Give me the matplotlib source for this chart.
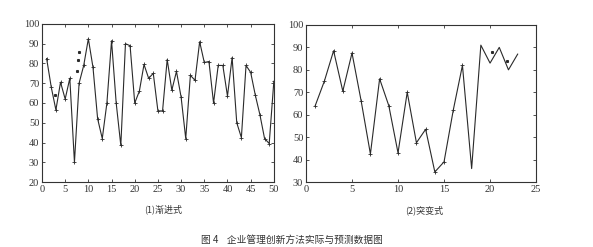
import matplotlib
matplotlib.use("Agg")
import matplotlib.pyplot as plt

# ---- data ----
left_x = list(range(1, 51))
left_y = [82.5, 68, 56.5, 70.5, 62, 72.5, 30, 70, 79, 92.5,
          78, 52, 42, 60, 91.5, 60, 38.5, 90, 89, 60,
          66, 79.5, 72.5, 75, 56, 56, 82, 66.5, 76, 63,
          42, 74, 71.5, 91, 80.5, 81, 60, 79, 79, 63.5,
          83, 50, 42.5, 79, 75.5, 64, 54, 42, 39.5, 71]
left_pred_x = [2.8, 7.6, 7.7, 8.0]
left_pred_y = [64, 76, 82, 86]

right_x = list(range(1, 24))
right_y = [64, 75, 88.5, 70.5, 87.5, 66, 42.5, 76, 64, 43,
           70, 47.5, 53.5, 34.5, 39, 62, 82, 36, 91, 83,
           90, 80, 87]
right_pred_x = [20.2, 21.8]
right_pred_y = [88, 84]

left_xticks = list(range(0, 51, 5))
left_yticks = list(range(20, 101, 10))
right_xticks = list(range(0, 26, 5))
right_yticks = list(range(30, 101, 10))

sub1 = "(1)渐进式"
sub2 = "(2)突变式"
caption = "图 4    企业管理创新方法实际与预测数据图"

# ---- figure ----
fig = plt.figure(figsize=(5.93, 2.47), dpi=100)
num_font = "Liberation Serif"
cjk = ["Noto Sans CJK SC", "DejaVu Sans"]
lc = "#2a2a2a"

def style(ax, xt, yt, xlim, ylim):
    ax.set_xlim(*xlim)
    ax.set_ylim(*ylim)
    ax.set_xticks(xt)
    ax.set_yticks(yt)
    ax.tick_params(direction="in", top=True, right=True, length=2.5,
                   width=0.6, labelsize=7.5, pad=2, colors="#333333")
    for lab in ax.get_xticklabels() + ax.get_yticklabels():
        lab.set_fontfamily(num_font)
    for s in ax.spines.values():
        s.set_linewidth(0.8)
        s.set_color("#333333")

ax1 = fig.add_axes([0.0708, 0.263, 0.391, 0.640])
ax1.plot(left_x, left_y, color=lc, lw=0.8, marker="+", ms=2.2, mew=0.6)
ax1.plot(left_pred_x, left_pred_y, ls="none", marker="s", ms=1.2, color=lc)
style(ax1, left_xticks, left_yticks, (0, 50), (20, 100))

ax2 = fig.add_axes([0.516, 0.263, 0.388, 0.636])
ax2.plot(right_x, right_y, color=lc, lw=0.8, marker="+", ms=2.2, mew=0.6,
         markevery=list(range(0, 17)))
ax2.plot(right_pred_x, right_pred_y, ls="none", marker="s", ms=1.2, color=lc)
style(ax2, right_xticks, right_yticks, (0, 25), (30, 100))

fig.text(163 / 593, 1 - 209 / 247, sub1, ha="center", va="center",
         fontsize=6.5, family=cjk, color="#333333")
fig.text(424 / 593, 1 - 210 / 247, sub2, ha="center", va="center",
         fontsize=6.5, family=cjk, color="#333333")
fig.text(292 / 593, 1 - 240 / 247, caption, ha="center", va="center",
         fontsize=7, family=cjk, color="#333333")

fig.savefig("out.png", dpi=100)
